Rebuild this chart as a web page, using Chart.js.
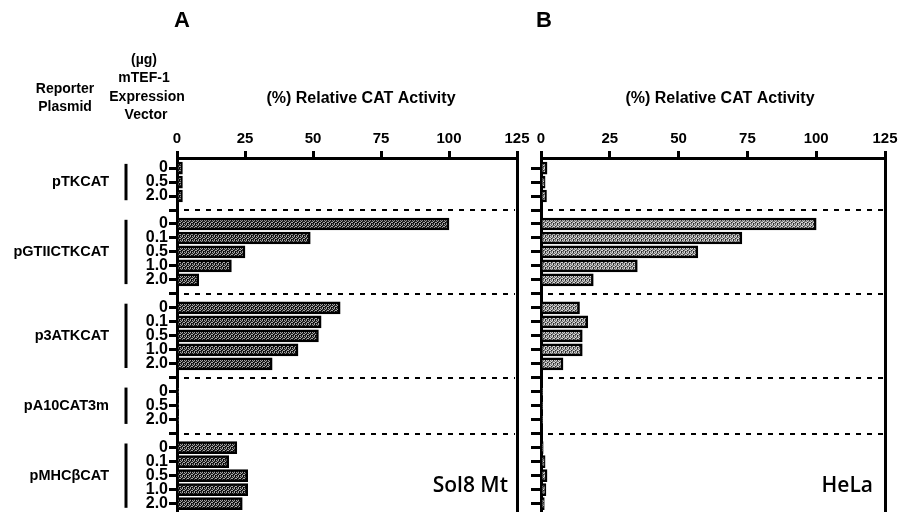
<!DOCTYPE html>
<html><head><meta charset="utf-8">
<script src="https://cdn.jsdelivr.net/npm/chart.js@4/dist/chart.umd.min.js"></script>
<style>
html,body{margin:0;padding:0;background:#fff;width:899px;height:512px;overflow:hidden}
#a{position:absolute;left:0;top:0}
#b{position:absolute;left:530px;top:0}
</style></head><body>
<canvas id="a" width="530" height="512"></canvas>
<canvas id="b" width="369" height="512"></canvas>
<script>
// ---- data ----
const reporters = ['pTKCAT', 'pGTIICTKCAT', 'p3ATKCAT', 'pA10CAT3m', 'pMHCβCAT'];
const doses = [
  ['0', '0.5', '2.0'],
  ['0', '0.1', '0.5', '1.0', '2.0'],
  ['0', '0.1', '0.5', '1.0', '2.0'],
  ['0', '0.5', '2.0'],
  ['0', '0.1', '0.5', '1.0', '2.0']
];
const sol8Mt = [[2, 2, 2], [100, 49, 25, 20, 8], [60, 53, 52, 44.5, 35], [0.5, 0.5, 0.5], [22, 19, 26, 26, 24]];
const hela = [[2.2, 1.5, 2], [100, 73, 57, 35, 19], [14, 17, 15, 15, 8], [0.5, 0.5, 0.5], [0.8, 1.5, 2.2, 1.8, 1.2]];
const xTicks = [0, 25, 50, 75, 100, 125];
const panelNames = ['Sol8 Mt', 'HeLa'];
const panelLetters = ['A', 'B'];
const axisTitle = '(%) Relative CAT Activity';

// ---- slots (rows) ----
const slotLabels = [], groupSpans = [], sepSlots = [];
reporters.forEach((r, g) => {
  const start = slotLabels.length;
  doses[g].forEach(d => slotLabels.push(d));
  groupSpans.push([start, slotLabels.length - 1]);
  if (g < reporters.length - 1) { sepSlots.push(slotLabels.length); slotLabels.push(''); }
});
function points(vals) {
  const pts = [];
  reporters.forEach((r, g) => vals[g].forEach((v, j) => pts.push({ x: v, y: groupSpans[g][0] + j })));
  return pts;
}
function makePattern(ctx, base, dots, dark) {
  const c = document.createElement('canvas'); c.width = 4; c.height = 4;
  const x = c.getContext('2d');
  x.fillStyle = base; x.fillRect(0, 0, 4, 4);
  x.fillStyle = dots;
  [[0,0],[2,0],[1,1],[3,2],[0,2],[2,3]].forEach(([i, j]) => x.fillRect(i, j, 1, 1));
  x.fillStyle = dark;
  [[3,0],[1,2],[3,3]].forEach(([i, j]) => x.fillRect(i, j, 1, 1));
  return ctx.createPattern(c, 'repeat');
}

const FONT = '"Liberation Sans", Arial, sans-serif';

function sepPlugin(idx) {
  return {
    id: 'deco' + idx,
    afterDraw(chart) {
      const ctx = chart.ctx, ca = chart.chartArea, ys = chart.scales.y;
      ctx.save();
      // dashed separators
      ctx.strokeStyle = '#000'; ctx.lineWidth = 2; ctx.setLineDash([5, 6]);
      sepSlots.forEach(s => {
        const y = Math.round(ys.getPixelForValue(s));
        ctx.beginPath(); ctx.moveTo(ca.left + 7, y); ctx.lineTo(ca.right - 2, y); ctx.stroke();
      });
      ctx.setLineDash([]);
      ctx.fillStyle = '#000';
      ctx.textAlign = 'center'; ctx.textBaseline = 'middle';
      // title
      ctx.font = 'bold 16px ' + FONT;
      ctx.fillText(axisTitle, (ca.left + ca.right) / 2 + (idx === 0 ? 14 : 7), 99);
      // panel letter
      ctx.font = 'bold 22px ' + FONT;
      ctx.fillText(panelLetters[idx], ca.left + (idx === 0 ? 5 : 3), 21);
      // panel name
      ctx.font = '600 21px "Open Sans", sans-serif';
      ctx.textAlign = 'right';
      ctx.fillText(panelNames[idx], ca.right - (idx === 0 ? 9 : 12), 486);
      if (idx === 0) {
        ctx.textAlign = 'center';
        ctx.font = 'bold 14px ' + FONT;
        ctx.fillText('Reporter', 65, 89);
        ctx.fillText('Plasmid', 65, 107);
        ctx.fillText('(µg)', 144, 60);
        ctx.fillText('mTEF-1', 144, 78);
        ctx.fillText('Expression', 147, 97);
        ctx.fillText('Vector', 146, 115);
        ctx.textAlign = 'right';
        ctx.font = 'bold 14.5px ' + FONT;
        reporters.forEach((r, g) => {
          const [s, e] = groupSpans[g];
          const yc = ys.getPixelForValue((s + e) / 2);
          ctx.fillText(r, 109, yc);
          ctx.lineWidth = 3;
          ctx.beginPath();
          ctx.moveTo(126, ys.getPixelForValue(s - 0.3));
          ctx.lineTo(126, ys.getPixelForValue(e + 0.3));
          ctx.stroke();
        });
      }
      ctx.restore();
    }
  };
}

function makeChart(id, vals, idx) {
  const canvas = document.getElementById(id);
  const ctx = canvas.getContext('2d');
  const fill = idx === 0 ? makePattern(ctx, '#262626', '#a8a8a8', '#000') : makePattern(ctx, '#7a7a7a', '#d4d4d4', '#2a2a2a');
  const leftW = idx === 0 ? 177 : 11;
  const rightPad = idx === 0 ? 13 : 14;
  return new Chart(ctx, {
    type: 'bar',
    data: {
      datasets: [{
        data: points(vals),
        backgroundColor: fill,
        borderColor: '#000',
        borderWidth: 2.5,
        borderSkipped: 'start',
        barThickness: 12
      }]
    },
    options: {
      indexAxis: 'y',
      responsive: false,
      animation: false,
      devicePixelRatio: 1,
      layout: { padding: { left: 0, right: rightPad, top: 0, bottom: 0 } },
      plugins: { legend: { display: false }, tooltip: { enabled: false } },
      scales: {
        x: {
          type: 'linear', position: 'top', min: 0, max: 125, offset: false,
          afterBuildTicks: s => { s.ticks = xTicks.map(v => ({ value: v })); },
          afterFit: s => { s.height = 158; s.paddingLeft = 0; s.paddingRight = 0; },
          ticks: { font: { family: FONT, weight: 'bold', size: 15 }, color: '#000', padding: 3, maxRotation: 0, autoSkip: false },
          grid: {
            offset: false,
            color: c => (c.tick && c.tick.value === 125) ? '#000' : 'rgba(0,0,0,0)',
            lineWidth: 3, drawTicks: true, tickLength: 7, tickWidth: 3, tickColor: '#000'
          },
          border: { display: true, color: '#000', width: 3 }
        },
        y: {
          type: 'linear', reverse: true, min: -0.72, max: 24.6, offset: false,
          afterBuildTicks: s => { s.ticks = slotLabels.map((_, i) => ({ value: i })); },
          afterFit: s => { s.width = leftW; s.paddingTop = 0; s.paddingBottom = 0; },
          ticks: {
            callback: v => idx === 0 ? (slotLabels[v] ?? '') : '',
            font: { family: FONT, weight: 'bold', size: 16, lineHeight: 1 },
            color: '#000', padding: 1, autoSkip: false
          },
          grid: { offset: false, drawOnChartArea: false, drawTicks: true, tickLength: idx === 0 ? 8 : 10, tickWidth: 3, tickColor: '#000' },
          border: { display: true, color: '#000', width: 3 }
        }
      }
    },
    plugins: [sepPlugin(idx)]
  });
}
makeChart('a', sol8Mt, 0);
makeChart('b', hela, 1);
</script>
</body></html>
